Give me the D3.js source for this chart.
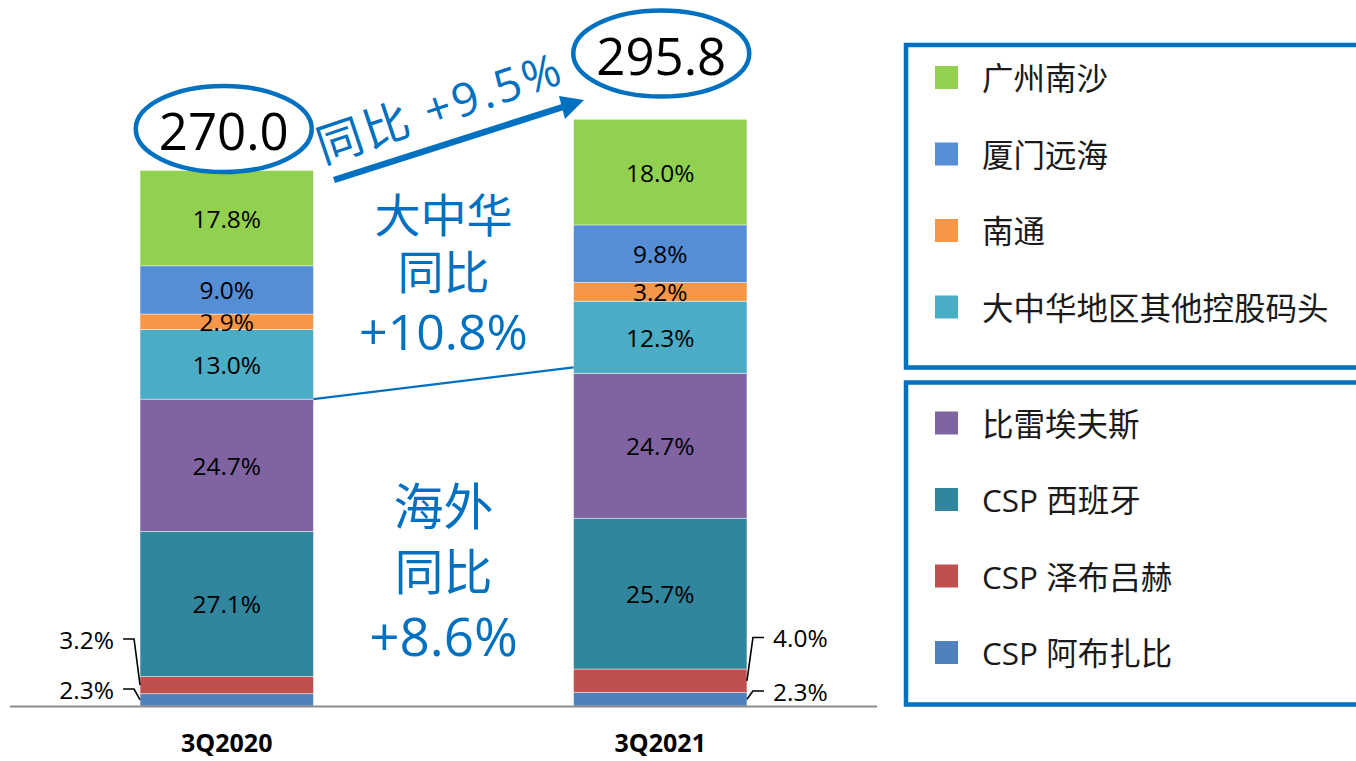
<!DOCTYPE html>
<html>
<head>
<meta charset="utf-8">
<script src="https://d3js.org/d3.v7.min.js"></script>
<style>
  body { margin: 0; background: #fff; }
  svg { display: block; }
  text { font-family: "Open Sans", "Noto Sans CJK SC", sans-serif; }
</style>
</head>
<body>
<div class="vis"></div>
<script>
  // data
  let categories = ["3Q2020", "3Q2021"];
  let totals = [270.0, 295.8];
  let seriesNames = ["CSP 阿布扎比", "CSP 泽布吕赫", "CSP 西班牙", "比雷埃夫斯",
                     "大中华地区其他控股码头", "南通", "厦门远海", "广州南沙"];
  let shares2020 = [2.3, 3.2, 27.1, 24.7, 13.0, 2.9, 9.0, 17.8];
  let shares2021 = [2.3, 4.0, 25.7, 24.7, 12.3, 3.2, 9.8, 18.0];
  let colors = ["#4F81BD", "#C0504D", "#31859C", "#8064A2",
                "#4BACC6", "#F79646", "#558ED5", "#92D050"];
  let legendTop = ["广州南沙", "厦门远海", "南通", "大中华地区其他控股码头"];
  let legendBottom = ["比雷埃夫斯", "CSP 西班牙", "CSP 泽布吕赫", "CSP 阿布扎比"];
  let growthTotal = "同比 +9.5%";
  let growthChina = ["大中华", "同比", "+10.8%"];
  let growthOverseas = ["海外", "同比", "+8.6%"];

  const W = 1356, H = 761;
  const blue = "#0070C0";
  const fmt = d => d.toFixed(1) + "%";

  let shares = [shares2020, shares2021];
  // table for d3.stack: one row per category, values in absolute units
  let table = categories.map((c, i) => {
    let row = {cat: c, total: totals[i]};
    seriesNames.forEach((s, j) => row[s] = totals[i] * shares[i][j] / 100);
    return row;
  });
  let stacked = d3.stack().keys(seriesNames)(table);

  let svg = d3.select(".vis").append("svg")
    .attr("width", W).attr("height", H)
    .attr("viewBox", [0, 0, W, H]);
  svg.append("rect").attr("width", W).attr("height", H).attr("fill", "#fff");

  let x = d3.scaleBand().domain(categories).range([10, 877])
    .paddingInner(0.6).paddingOuter(0.3);
  let y = d3.scaleLinear().domain([0, d3.max(totals)]).range([706, 119.3]);
  let color = d3.scaleOrdinal().domain(seriesNames).range(colors);

  // bars
  let layer = svg.append("g").selectAll("g")
    .data(stacked).join("g")
    .attr("fill", d => color(d.key));
  layer.selectAll("rect")
    .data(d => d.map((v, i) => ({v, i, key: d.key, j: seriesNames.indexOf(d.key)})))
    .join("rect")
    .attr("x", d => x(d.v.data.cat))
    .attr("y", d => y(d.v[1]))
    .attr("width", x.bandwidth())
    .attr("height", d => y(d.v[0]) - y(d.v[1]))
    .attr("stroke", "#fff").attr("stroke-opacity", 0.55).attr("stroke-width", 0.8);

  // inside labels (skip the two small bottom series)
  layer.selectAll("text")
    .data(d => d.map((v, i) => ({v, i, j: seriesNames.indexOf(d.key)})).filter(d => d.j >= 2))
    .join("text")
    .attr("x", d => x(d.v.data.cat) + x.bandwidth() / 2)
    .attr("y", d => (y(d.v[0]) + y(d.v[1])) / 2)
    .attr("text-anchor", "middle")
    .attr("dominant-baseline", "central")
    .attr("font-size", 24.5)
    .attr("fill", "#000")
    .text(d => fmt(shares[d.i][d.j]));

  // leader labels for the two bottom series
  let leaderOffsets = [[-17, -67], [-15, -68.5]]; // label y relative to baseline
  categories.forEach((c, i) => {
    [0, 1].forEach(j => {
      let seg = stacked[j][i];
      let segMid = (y(seg[0]) + y(seg[1])) / 2;
      let ly = y(0) + leaderOffsets[i][j];
      let left = i === 0;
      let edge = left ? x(c) : x(c) + x.bandwidth();
      let s = left ? -1 : 1;
      svg.append("path")
        .attr("d", `M${edge + s * 17},${ly} L${edge + s * 6},${ly} L${edge},${segMid}`)
        .attr("fill", "none").attr("stroke", "#000").attr("stroke-width", 1.6);
      svg.append("text")
        .attr("x", edge + s * 26).attr("y", ly)
        .attr("text-anchor", left ? "end" : "start")
        .attr("dominant-baseline", "central")
        .attr("font-size", 24.5)
        .text(fmt(shares[i][j]));
    });
  });

  // baseline
  svg.append("line").attr("x1", 10).attr("x2", 877)
    .attr("y1", y(0) + 0.5).attr("y2", y(0) + 0.5)
    .attr("stroke", "#8c8c8c").attr("stroke-width", 2);

  // category labels
  svg.append("g").selectAll("text").data(categories).join("text")
    .attr("x", d => x(d) + x.bandwidth() / 2)
    .attr("y", 752)
    .attr("text-anchor", "middle")
    .attr("font-size", 25).attr("font-weight", "bold")
    .text(d => d);

  // totals in ellipses
  let ellipseY = [129, 53.5];
  categories.forEach((c, i) => {
    let cx = x(c) + x.bandwidth() / 2 - 3;
    svg.append("ellipse").attr("cx", cx + i * 4).attr("cy", ellipseY[i])
      .attr("rx", 88).attr("ry", 43)
      .attr("fill", "#fff").attr("stroke", blue).attr("stroke-width", 4.5);
    svg.append("text").attr("x", cx + i * 4).attr("y", ellipseY[i] + 1)
      .attr("text-anchor", "middle").attr("dominant-baseline", "central")
      .attr("font-size", 51).attr("fill", "#000")
      .text(totals[i].toFixed(1));
  });

  // growth arrow
  svg.append("line").attr("x1", 334).attr("y1", 180).attr("x2", 566).attr("y2", 106)
    .attr("stroke", blue).attr("stroke-width", 6.5);
  svg.append("path").attr("d", "M584,100 L559,96 L565,119 Z").attr("fill", blue);
  svg.append("text")
    .attr("transform", "translate(445,123) rotate(-18.5)")
    .attr("text-anchor", "middle")
    .attr("font-size", 46).attr("letter-spacing", 3).attr("fill", blue)
    .text(growthTotal);

  // region growth texts
  let midX = (x(categories[0]) + x.bandwidth() + x(categories[1])) / 2;
  let block = (lines, ys, sizes) => lines.forEach((t, k) => {
    svg.append("text").attr("x", midX).attr("y", ys[k])
      .attr("text-anchor", "middle").attr("dominant-baseline", "central")
      .attr("font-size", sizes[k]).attr("fill", blue).text(t);
  });
  block(growthChina, [214, 271, 331], [46, 46, 50]);
  block(growthOverseas, [506, 571, 635], [50, 49, 53]);

  // divider between China and overseas
  let b0 = y(d3.sum(shares2020.slice(0, 4)) * totals[0] / 100);
  let b1 = y(d3.sum(shares2021.slice(0, 4)) * totals[1] / 100);
  svg.append("line")
    .attr("x1", x(categories[0]) + x.bandwidth()).attr("y1", b0)
    .attr("x2", x(categories[1])).attr("y2", b1 - 6)
    .attr("stroke", blue).attr("stroke-width", 2.2);

  // legends
  function legend(items, top, bottom, firstY, step) {
    svg.append("rect").attr("x", 906).attr("y", top)
      .attr("width", 520).attr("height", bottom - top)
      .attr("fill", "none").attr("stroke", blue).attr("stroke-width", 4.5);
    let g = svg.append("g").selectAll("g").data(items).join("g")
      .attr("transform", (d, k) => `translate(0,${firstY + k * step})`);
    g.append("rect").attr("x", 935).attr("y", -11.5).attr("width", 23).attr("height", 23)
      .attr("fill", d => color(d));
    g.append("text").attr("x", 982).attr("y", 0)
      .attr("dominant-baseline", "central")
      .attr("font-size", 31.5).attr("fill", "#1a1a1a")
      .text(d => d);
  }
  legend(legendTop, 45, 367.5, 77.5, 76.5);
  legend(legendBottom, 382.5, 704.5, 423, 76.5);
</script>
</body>
</html>
